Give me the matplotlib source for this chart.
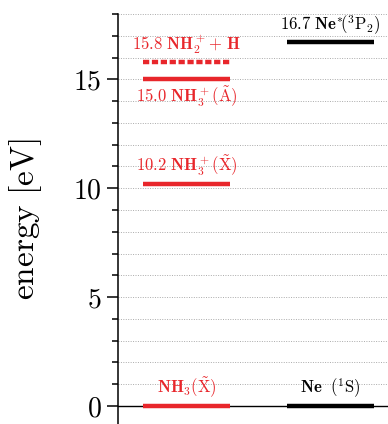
import matplotlib
matplotlib.use("Agg")
import matplotlib.pyplot as plt
from matplotlib.ticker import MultipleLocator

plt.rcParams['mathtext.fontset'] = 'cm'
plt.rcParams['font.family'] = 'DejaVu Serif'

RED = '#e8262b'
# data
nh3_energies = [0.0, 10.2, 15.0, 15.8]
nh3_labels = [r'$\mathbf{NH_3}(\tilde{\mathrm{X}})$',
              r'$\mathrm{10.2}\ \mathbf{NH_3^+}(\tilde{\mathrm{X}})$',
              r'$\mathrm{15.0}\ \mathbf{NH_3^+}(\tilde{\mathrm{A}})$',
              r'$\mathrm{15.8}\ \mathbf{NH_2^+\!+\,H}$']
nh3_styles = ['-', '-', '-', (0, (1.4, 0.6))]
nh3_label_pos = ['above', 'above', 'below', 'above']
ne_energies = [0.0, 16.7]
ne_labels = [r'$\mathbf{Ne}\ \ (^1\mathrm{S})$',
             r'$\mathrm{16.7}\ \mathbf{Ne}^{\ast}\!(^3\mathrm{P}_2)$']

fig = plt.figure(figsize=(3.88, 4.24), dpi=100)
ax = fig.add_axes([118/388, 0, 270/388, 1 - 14/424])
ax.set_xlim(-0.476, 1.40)
ax.set_ylim(-0.83, 18.0)

ax.yaxis.set_major_locator(MultipleLocator(5))
ax.yaxis.set_minor_locator(MultipleLocator(1))
ax.grid(True, which='both', axis='y', linestyle=(0, (1, 1.5)), color='#aaaaaa', linewidth=0.7)
ax.axhline(0, color='black', lw=1.0, zorder=2)
ax.set_xticks([])
for s in ['top', 'right', 'bottom']:
    ax.spines[s].set_visible(False)
ax.spines['left'].set_linewidth(1.1)
ax.tick_params(axis='y', which='major', length=8, width=1.1, pad=4, labelsize=20, direction='out')
ax.tick_params(axis='y', which='minor', length=4.5, width=1.1, direction='out')
ax.set_yticks([0, 5, 10, 15])
ax.set_yticklabels([r'$0$', r'$5$', r'$10$', r'$15$'])
ax.set_ylabel(r'$\mathrm{energy\ [eV]}$', fontsize=24)
ax.yaxis.set_label_coords(-0.275, 0.5)

hw = 0.302
for e, lab, ls, pos in zip(nh3_energies, nh3_labels, nh3_styles, nh3_label_pos):
    ax.hlines(e, 0 - hw, 0 + hw, color=RED, lw=3.2, linestyles=[ls], zorder=3)
    if pos == 'above':
        ax.text(0, e + 0.25, lab, color=RED, ha='center', va='bottom', fontsize=12)
    else:
        ax.text(0, e - 0.25, lab, color=RED, ha='center', va='top', fontsize=12)
for e, lab in zip(ne_energies, ne_labels):
    ax.hlines(e, 1 - hw, 1 + hw, color='black', lw=3.2, zorder=3)
    ax.text(1, e + 0.25, lab, color='black', ha='center', va='bottom', fontsize=12)

fig.savefig('out.png', dpi=100)
